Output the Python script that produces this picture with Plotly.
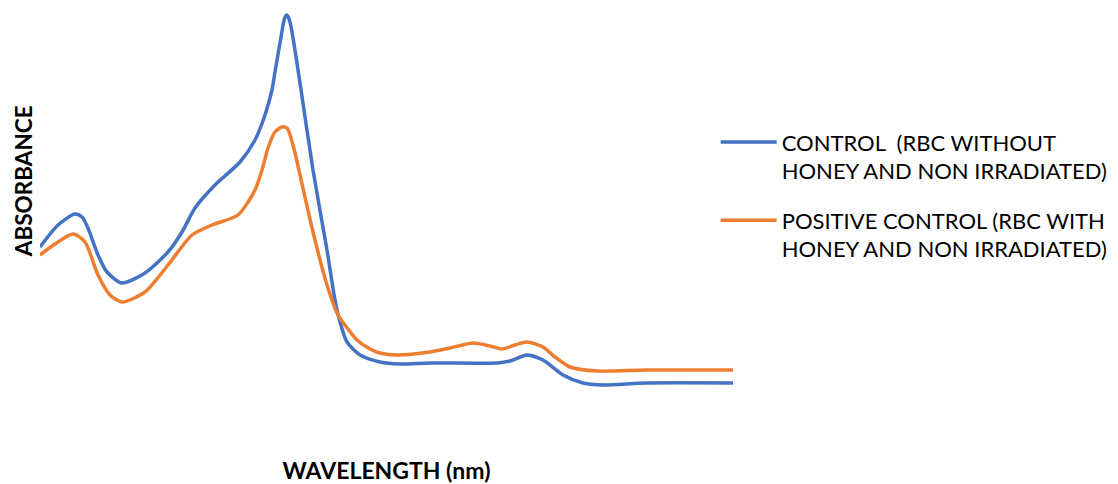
import plotly.graph_objects as go

# Wavelength positions (nm, notional – the chart shows no tick labels)
wl_control = [200, 218, 235, 242, 248, 258, 267, 282, 305, 328, 342, 355, 375, 400, 415, 425,
              432, 435, 440, 445, 447, 450, 460, 473, 487, 495, 500, 507, 520, 540, 560, 590,
              657, 670, 687, 703, 723, 743, 763, 807, 893]
abs_control = [1.53, 1.75, 1.86, 1.83, 1.72, 1.45, 1.28, 1.17, 1.27, 1.48, 1.68, 1.92, 2.15,
               2.38, 2.60, 2.85, 3.10, 3.28, 3.57, 3.83, 3.85, 3.78, 3.17, 2.30, 1.50, 1.00,
               0.78, 0.58, 0.45, 0.38, 0.36, 0.37, 0.37, 0.39, 0.45, 0.40, 0.25, 0.17, 0.15,
               0.17, 0.17]

wl_positive = [200, 215, 233, 245, 258, 270, 282, 305, 328, 352, 372, 398, 415, 422, 428, 435,
               442, 447, 453, 460, 473, 487, 498, 505, 517, 530, 540, 557, 590, 610, 633, 650,
               662, 675, 687, 703, 715, 730, 757, 807, 893]
abs_positive = [1.45, 1.56, 1.66, 1.58, 1.25, 1.05, 0.98, 1.08, 1.35, 1.65, 1.75, 1.85, 2.10,
                2.30, 2.52, 2.68, 2.73, 2.72, 2.55, 2.25, 1.68, 1.15, 0.85, 0.75, 0.60, 0.51,
                0.47, 0.45, 0.48, 0.52, 0.57, 0.54, 0.51, 0.55, 0.58, 0.53, 0.43, 0.33, 0.29,
                0.30, 0.30]

series_names = [
    "CONTROL\u00a0 (RBC WITHOUT<br>HONEY AND NON IRRADIATED)",
    "POSITIVE CONTROL (RBC WITH<br>HONEY AND NON IRRADIATED)",
]
x_title = "WAVELENGTH (nm)"
y_title = "ABSORBANCE"

fig = go.Figure()
fig.add_trace(go.Scatter(x=wl_control, y=abs_control, mode="lines", name=series_names[0],
                         legendgroup="a",
                         line=dict(color="#4472C4", width=3.5, shape="spline", smoothing=0.7)))
fig.add_trace(go.Scatter(x=wl_positive, y=abs_positive, mode="lines", name=series_names[1],
                         legendgroup="b",
                         line=dict(color="#ED7D31", width=3.5, shape="spline", smoothing=0.7)))

fig.update_layout(
    width=1118, height=484,
    margin=dict(l=40, r=385, t=0, b=84, autoexpand=False),
    paper_bgcolor="white", plot_bgcolor="white",
    font=dict(family="Lato", color="#000000"),
    showlegend=True,
    legend=dict(x=0.975, y=0.697, xanchor="left", yanchor="top", valign="top",
                font=dict(family="Lato", size=22, color="#000000"),
                itemwidth=56, tracegroupgap=18),
    xaxis=dict(range=[200, 893], showgrid=False, zeroline=False, showline=False,
               showticklabels=False, ticks="",
               title=dict(text="<b>" + x_title + "</b>", font=dict(size=23, family="Lato"),
                          standoff=64)),
    yaxis=dict(range=[0, 4.0], showgrid=False, zeroline=False, showline=False,
               showticklabels=False, ticks=""),
    annotations=[dict(text="<b>" + y_title + "</b>", xref="paper", yref="paper",
                      x=-0.024, y=0.548, xanchor="center", yanchor="middle", textangle=-90,
                      showarrow=False, font=dict(size=22.5, family="Lato", color="#000000"))],
)

fig.write_html("out.html")
